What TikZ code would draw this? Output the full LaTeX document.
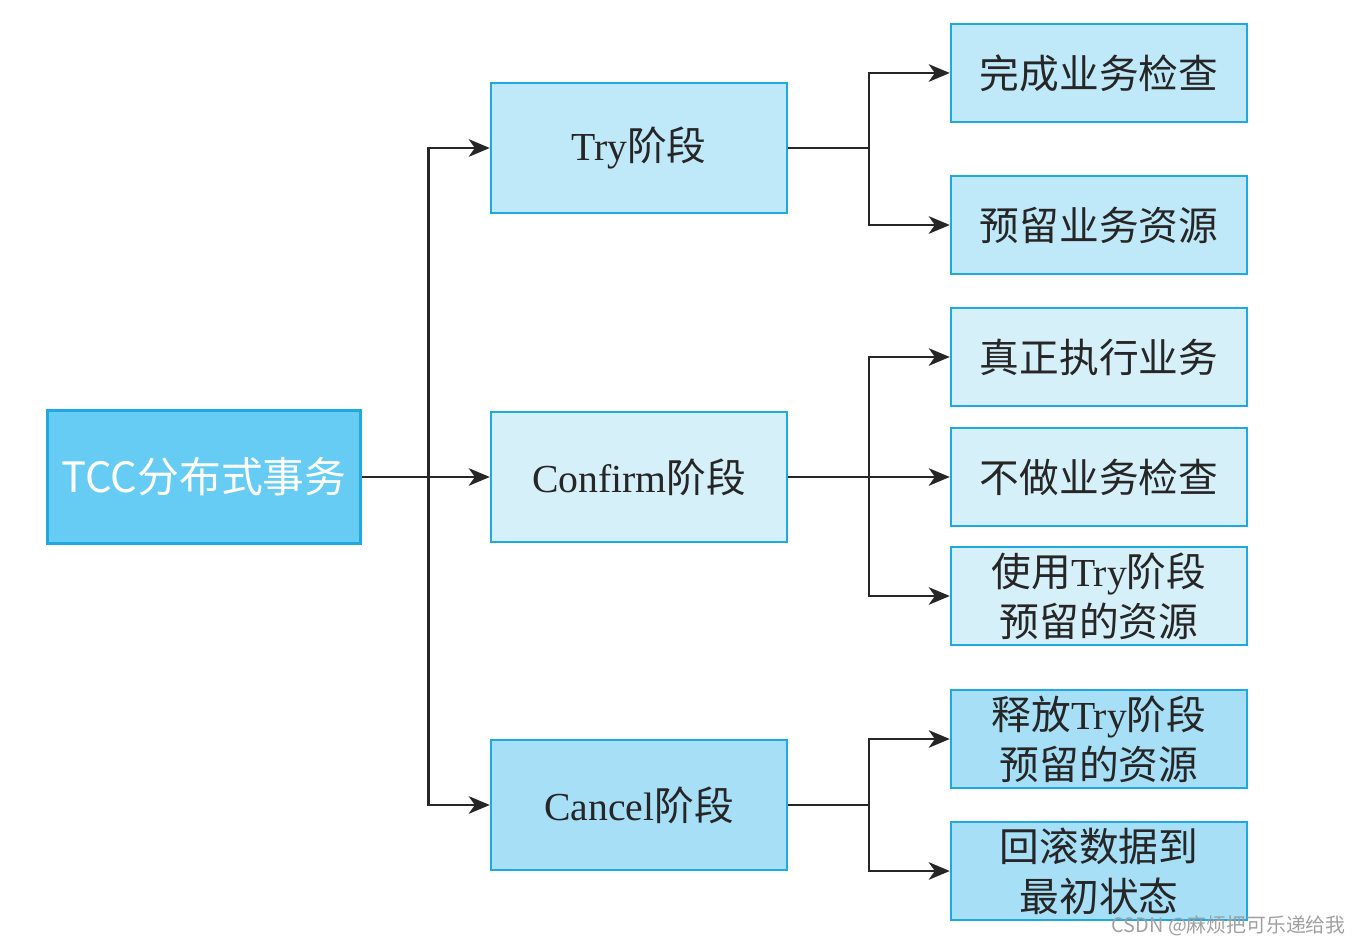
\documentclass[tikz,border=0pt]{standalone}
\usepackage{fontspec}
\setmainfont{Liberation Serif}
\newfontfamily\cjk{Noto Sans CJK SC}
\usetikzlibrary{arrows.meta}
\newcommand\zhtxt[1]{{\cjk #1}}
\definecolor{bordc}{HTML}{1EA9E1}
\definecolor{tccfill}{HTML}{66CCF3}
\definecolor{tryfill}{HTML}{BFE8F8}
\definecolor{conffill}{HTML}{D6F0FA}
\definecolor{canfill}{HTML}{A6DFF6}
\definecolor{wmgray}{HTML}{A0A0A0}
\begin{document}
\begin{tikzpicture}[x=0.02cm,y=-0.02cm,
  box/.style={draw=bordc, line width=1.4pt, inner sep=0pt, align=center,
    font=\fontsize{22.6}{28.5}\selectfont, text=black!85},
  midbox/.style={box, minimum width=5.92cm, minimum height=2.6cm},
  leafbox/.style={box, minimum width=5.92cm, minimum height=1.96cm},
  conn/.style={line width=1.4pt, black!85},
  arr/.style={conn, -{Stealth[length=12pt,width=10pt,inset=3.5pt]}}]
\useasboundingbox (0,0) rectangle (1360,946);

\node[box, fill=tccfill, minimum width=6.26cm, minimum height=2.66cm, text=white, font=\fontsize{23.8}{28}\selectfont] (tcc) at (204,477) {\zhtxt{TCC分布式事务}};

\node[midbox, fill=tryfill] (try) at (639,148) {Try\zhtxt{阶段}};
\node[midbox, fill=conffill] (conf) at (639,477) {Confirm\zhtxt{阶段}};
\node[midbox, fill=canfill] (can) at (639,805) {Cancel\zhtxt{阶段}};

\node[leafbox, fill=tryfill] (r1) at (1099,73) {\zhtxt{完成业务检查}};
\node[leafbox, fill=tryfill] (r2) at (1099,225) {\zhtxt{预留业务资源}};
\node[leafbox, fill=conffill] (r3) at (1099,357) {\zhtxt{真正执行业务}};
\node[leafbox, fill=conffill] (r4) at (1099,477) {\zhtxt{不做业务检查}};
\node[leafbox, fill=conffill] (r5) at (1099,596) {\zhtxt{使用}Try\zhtxt{阶段}\\\zhtxt{预留的资源}};
\node[leafbox, fill=canfill] (r6) at (1099,739) {\zhtxt{释放}Try\zhtxt{阶段}\\\zhtxt{预留的资源}};
\node[leafbox, fill=canfill] (r7) at (1099,871) {\zhtxt{回滚数据到}\\\zhtxt{最初状态}};

% left trunk
\draw[conn] (tcc.east) -- ++(67,0) coordinate (tj);
\draw[arr] (tj) |- (try.west);
\draw[arr] (tj) -- (conf.west);
\draw[arr] (tj) |- (can.west);

% try branch
\draw[conn] (try.east) -- ++(81,0) coordinate (tb);
\draw[arr] (tb) |- (r1.west);
\draw[arr] (tb) |- (r2.west);

% confirm branch
\draw[conn] (conf.east) -- ++(81,0) coordinate (cb);
\draw[arr] (cb) |- (r3.west);
\draw[arr] (cb) -- (r4.west);
\draw[arr] (cb) |- (r5.west);

% cancel branch
\draw[conn] (can.east) -- ++(81,0) coordinate (kb);
\draw[arr] (kb) |- (r6.west);
\draw[arr] (kb) |- (r7.west);

\node[anchor=east, inner sep=0pt, text=wmgray, font=\cjk\fontsize{11.3}{13}\selectfont] (wm) at (1346,926) {CSDN @麻烦把可乐递给我};
\end{tikzpicture}
\end{document}
